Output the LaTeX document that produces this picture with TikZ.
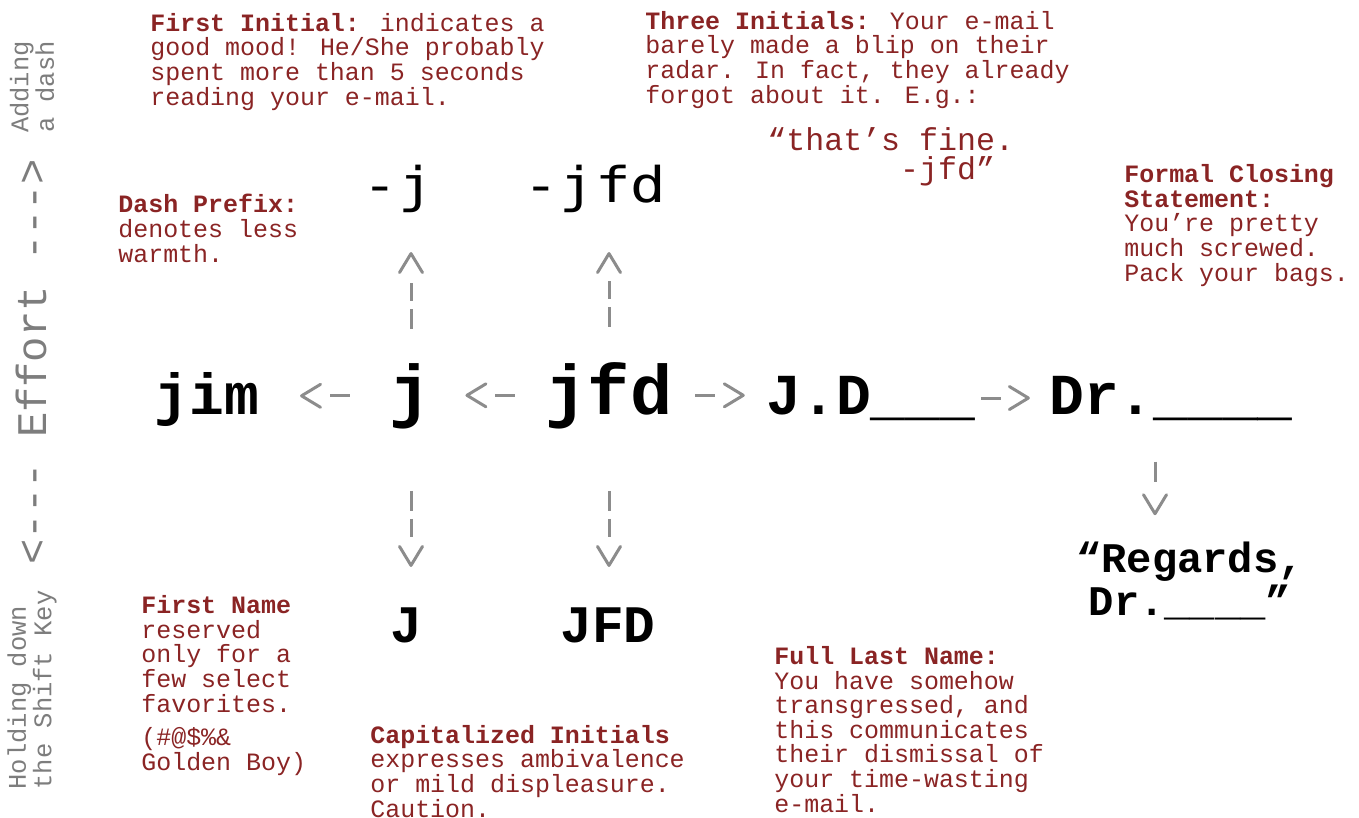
\documentclass[tikz,border=0pt]{standalone}
\usepackage{fontspec}
\newfontfamily\slabmono{Liberation Mono}
\newfontfamily\sansmono[FakeStretch=1.2]{DejaVu Sans Mono}
\usetikzlibrary{arrows.meta, positioning}
\definecolor{notered}{RGB}{138,36,36}
\definecolor{hintgray}{RGB}{125,125,125}
\definecolor{arrowgray}{RGB}{140,140,140}

\begin{document}
\begin{tikzpicture}[
        x=0.02cm, y=-0.02cm,
        note/.style={anchor=base west, inner sep=0pt, align=left, text=notered, font=\slabmono\fontsize{14.2}{14}\selectfont},
        quoted/.style={note, font=\slabmono\fontsize{18}{16}\selectfont},
        word/.style={anchor=base, inner sep=0pt, font=\slabmono\bfseries\fontsize{33}{33}\selectfont},
        bigword/.style={word, font=\slabmono\bfseries\fontsize{40}{40}\selectfont},
        capword/.style={word, font=\slabmono\bfseries\fontsize{30}{30}\selectfont},
        dashword/.style={anchor=base, inner sep=0pt, font=\sansmono\fontsize{28}{28}\selectfont},
        regards/.style={anchor=base, inner sep=0pt, align=center, font=\slabmono\bfseries\fontsize{24}{24.4}\selectfont},
        axis/.style={inner sep=0pt, rotate=90, text=hintgray, font=\slabmono\fontsize{24}{24}\selectfont},
        side/.style={inner sep=0pt, rotate=90, align=left, text=hintgray, font=\slabmono\fontsize{14.5}{13.5}\selectfont},
        hop/.style={draw=arrowgray, line width=0.06cm, dash pattern=on 0.4cm off 3cm, -{Straight Barb[round, length=0.38cm, width=0.46cm]}},
        lift/.style={hop, dash pattern=on 0.4cm off 0.16cm on 0.36cm off 3cm}
    ]
        \useasboundingbox (0,0) rectangle (1359,818);
        % side hints
        \node[axis] (effort) at (31,362) {<--- Effort --->};
        \node[side] (dashhint) at (32,87) {Adding\\a dash};
        \node[side] (shifthint) at (32,690) {Holding down\\the Shift Key};
        % sign-offs
        \node[word] (jim) at (207,414) {jim};
        \node[bigword] (j) at (411,414) {j};
        \node[bigword] (jfd) at (609,414) {jfd};
        \node[word] (jd) at (871,414) {J.D\_\_\_};
        \node[word] (dr) at (1171,414) {Dr.\_\_\_\_};
        \node[dashword] (dj) at (398,202) {-j};
        \node[dashword] (djfd) at (595,202) {-jfd};
        \node[capword] (bigj) at (406,642) {J};
        \node[capword] (bigjfd) at (608,642) {JFD};
        \node[regards] (closing) at (1190,615) {“Regards,\\Dr.\_\_\_\_”};
        % notes (placed at the baseline of their last line)
        \node[note] (initnote) at (150,105) {\textbf{First Initial:} indicates a\\good mood! He/She probably\\spent more than 5 seconds\\reading your e-mail.};
        \node[note] (threenote) at (645,103) {\textbf{Three Initials:} Your e-mail\\barely made a blip on their\\radar. In fact, they already\\forgot about it. E.g.:};
        \node[quoted] (fine) at (767,179) {“that’s fine.\\\phantom{“that’s}-jfd”};
        \node[note] (dashnote) at (118,262) {\textbf{Dash Prefix:}\\denotes less\\warmth.};
        \node[note] (formalnote) at (1124,281) {\textbf{Formal Closing}\\\textbf{Statement:}\\You’re pretty\\much screwed.\\Pack your bags.};
        \node[note] (namenote) at (141,770) {\textbf{First Name}\\reserved\\only for a\\few select\\favorites.\\[5pt](\#@\$\%\&\\Golden Boy)};
        \node[note] (capsnote) at (370,817) {\textbf{Capitalized Initials}\\expresses ambivalence\\or mild displeasure.\\Caution.};
        \node[note] (lastnote) at (774,812) {\textbf{Full Last Name:}\\You have somehow\\transgressed, and\\this communicates\\their dismissal of\\your time-wasting\\e-mail.};
        % connectors
        \draw[hop, shorten <=0.8cm, shorten >=0.81cm] (j.west) -- (jim.east |- j.west);
        \draw[hop, shorten <=0.61cm, shorten >=0.66cm] (jfd.west) -- (j.east |- jfd.west);
        \draw[hop, shorten <=0.45cm, shorten >=0.43cm] (jfd.east) -- (jd.west |- jfd.east);
        \draw[hop, shorten <=0.11cm, shorten >=0.38cm] (jd.east) -- (dr.west |- jd.east);
        \draw[lift, shorten <=0.68cm, shorten >=0.79cm] (j.north) -- (j.north |- dj.south);
        \draw[lift, shorten <=0.7cm, shorten >=0.79cm] (jfd.north) -- (jfd.north |- djfd.south);
        \draw[lift, shorten <=1.24cm, shorten >=0.8cm] (j.south) -- (j.south |- bigj.north);
        \draw[lift, shorten <=1.24cm, shorten >=0.8cm] (jfd.south) -- (jfd.south |- bigjfd.north);
        \draw[hop, shorten <=0.82cm, shorten >=0.52cm] ([xshift=-0.32cm]dr.south) -- ([xshift=-0.32cm]dr.south |- closing.north);
    \end{tikzpicture}
\end{document}
